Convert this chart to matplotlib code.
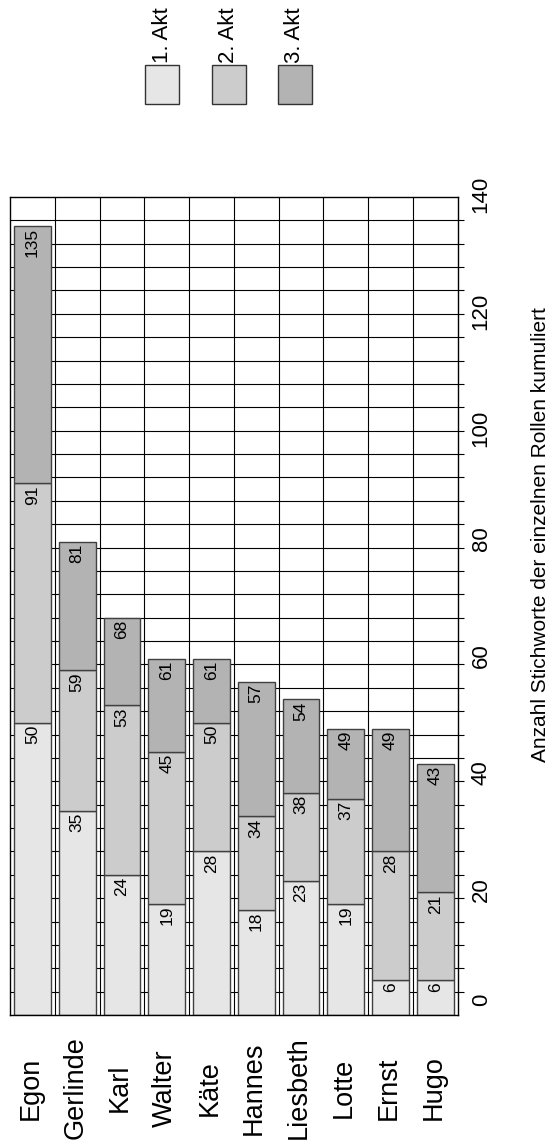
import numpy as np
import matplotlib
matplotlib.use('Agg')
import matplotlib.pyplot as plt
import matplotlib.transforms as mtransforms
from matplotlib.patches import Rectangle

plt.rcParams['font.family'] = ['Liberation Sans', 'DejaVu Sans']

# Stichworte je Rolle, kumuliert über die drei Akte
rollen = ['Egon', 'Gerlinde', 'Karl', 'Walter', 'Käte', 'Hannes',
          'Liesbeth', 'Lotte', 'Ernst', 'Hugo']
kum_akt1 = [50, 35, 24, 19, 28, 18, 23, 19, 6, 6]
kum_akt2 = [91, 59, 53, 45, 50, 34, 38, 37, 28, 21]
kum_akt3 = [135, 81, 68, 61, 61, 57, 54, 49, 49, 43]
akt_namen = ['1. Akt', '2. Akt', '3. Akt']
akt_farben = ['#e6e6e6', '#cccccc', '#b3b3b3']
wert_ticks = [0, 20, 40, 60, 80, 100, 120, 140]
wert_labels = ['0', '20', '40', '60', '80', '100', '120', '140']
achsen_titel = 'Anzahl Stichworte der einzelnen Rollen kumuliert'

W, H = 550, 1143
fig = plt.figure(figsize=(W / 100, H / 100), dpi=100)
ax = fig.add_axes([10 / W, 128 / H, 447.7 / W, 818 / H])

x = np.arange(len(rollen))
kumuliert = [kum_akt1, kum_akt2, kum_akt3]
unten = np.zeros(len(rollen))
for werte, farbe in zip(kumuliert, akt_farben):
    werte = np.array(werte, dtype=float)
    ax.bar(x, werte - unten, bottom=unten, width=0.82, color=farbe,
           edgecolor='#404040', linewidth=1.0, zorder=2)
    unten = werte

# Summenwerte oben in jedem Segment
wert_trans = mtransforms.offset_copy(ax.transData, fig=fig, y=-2, units='dots')
for werte in kumuliert:
    for xi, v in zip(x, werte):
        ax.text(xi, v, str(v), transform=wert_trans, rotation=90,
                ha='center', va='top', fontsize=12.5, zorder=3)

ax.set_xlim(-0.5, len(rollen) - 0.5)
ax.set_ylim(0, 140)

# Raster: waagrecht alle 4 Einheiten, senkrecht zwischen den Rollen
ax.set_yticks(np.arange(4, 140, 4))
ax.yaxis.tick_right()
ax.tick_params(axis='y', direction='out', length=4, width=0.8,
               color='black', labelright=False, labelleft=False)
ax.set_xticks(x)
ax.set_xticks(np.arange(0.5, len(rollen) - 1, 1), minor=True)
ax.tick_params(axis='x', which='both', length=0, labelbottom=False)
ax.grid(axis='y', which='major', color='black', linewidth=0.8, zorder=0)
ax.grid(axis='x', which='minor', color='black', linewidth=0.8, zorder=0)
ax.set_axisbelow(True)
for sp in ax.spines.values():
    sp.set_linewidth(1.0)
    sp.set_color('black')

# Skalenbeschriftung rechts
skala_trans = mtransforms.offset_copy(
    mtransforms.blended_transform_factory(ax.transAxes, ax.transData),
    fig=fig, x=13, y=21, units='dots')
for v, s in zip(wert_ticks, wert_labels):
    ax.text(1.0, v, s, transform=skala_trans, rotation=90,
            ha='left', va='top', fontsize=16, clip_on=False)

# Rollennamen unter den Säulen
namen_trans = mtransforms.offset_copy(
    mtransforms.blended_transform_factory(ax.transData, ax.transAxes),
    fig=fig, x=-2, y=-73, units='dots')
for xi, name in zip(x, rollen):
    ax.text(xi, 0, name, transform=namen_trans, rotation=90,
            ha='center', va='center', fontsize=19.5, clip_on=False)

fig.text(540 / W, 1 - 535 / H, achsen_titel, rotation=90,
         ha='center', va='center', fontsize=15)

# Legende
for i, (name, farbe) in enumerate(zip(akt_namen, akt_farben)):
    x0 = 145 + i * 66.5
    fig.add_artist(Rectangle((x0 / W, 1 - 104 / H), 34 / W, 39 / H,
                             transform=fig.transFigure, facecolor=farbe,
                             edgecolor='#333333', linewidth=1.0))
    fig.text((x0 + 17) / W, 1 - 63 / H, name, rotation=90,
             ha='center', va='bottom', fontsize=16)

fig.savefig('out.png', dpi=100)
